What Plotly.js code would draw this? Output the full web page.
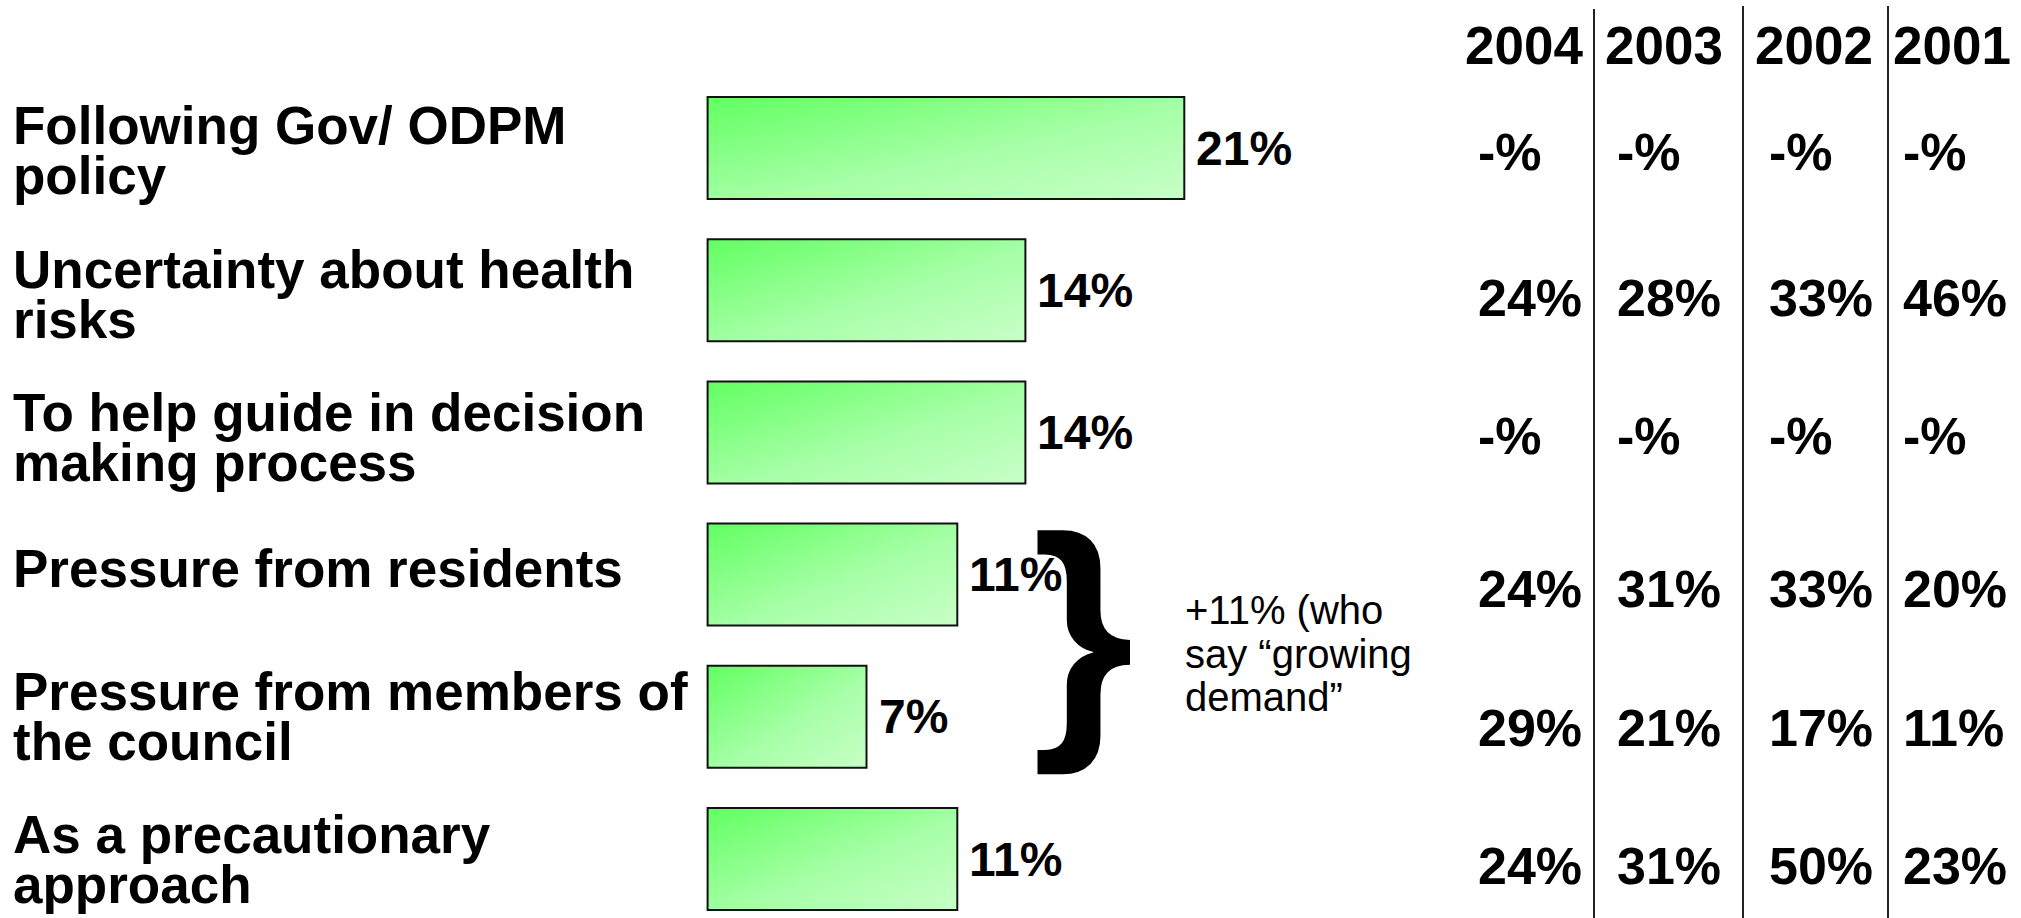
<!DOCTYPE html>
<html>
<head>
<meta charset="utf-8">
<script src="https://cdn.plot.ly/plotly-3.0.1.min.js"></script>
<style>
  html, body { margin: 0; padding: 0; background: #ffffff; }
  #chart { width: 2021px; height: 918px; }
</style>
</head>
<body>
<div id="chart"></div>
<script>
// ---- data ----
const categories = [
  "Following Gov/ ODPM policy",
  "Uncertainty about health risks",
  "To help guide in decision making process",
  "Pressure from residents",
  "Pressure from members of the council",
  "As a precautionary approach"
];
const categoryLines = [
  ["Following Gov/ ODPM", "policy"],
  ["Uncertainty about health", "risks"],
  ["To help guide in decision", "making process"],
  ["Pressure from residents"],
  ["Pressure from members of", "the council"],
  ["As a precautionary", "approach"]
];
const currentShare = [21, 14, 14, 11, 7, 11];
const years = ["2004", "2003", "2002", "2001"];
const share2004 = [null, 24, null, 24, 29, 24];
const share2003 = [null, 28, null, 31, 21, 31];
const share2002 = [null, 33, null, 33, 17, 50];
const share2001 = [null, 46, null, 20, 11, 23];
const groupNoteLines = ["+11% (who", "say \u201cgrowing", "demand\u201d"];

// ---- layout helpers ----
const W = 2021, H = 918;
const FONT = "Liberation Sans, Arial, Helvetica, sans-serif";
const px2x = p => p / W;
const px2y = p => 1 - p / H;
const barZeroPx = 707.6, pxPerPct = 22.7;
const firstRowPx = 148, rowPitch = 142.2;

const tableCols = [share2004, share2003, share2002, share2001];
const tableColLeftPx = [1476, 1615, 1767, 1901];
const headerCenterPx = [1524, 1664, 1814, 1952];
const tableRowPx = [152, 298, 436, 589, 728, 866];
const dividerPx = [1594, 1743, 1888];
const labelNudge = [2, 4, 5, -6, 0, 0];
const noteLinePx = [610, 654, 697];

const annotations = [];

// category labels
categoryLines.forEach((lines, i) => {
  const n = lines.length;
  lines.forEach((line, j) => {
    const off = (j - (n - 1) / 2) * 50 + labelNudge[i];
    annotations.push({
      xref: "paper", x: px2x(11), xanchor: "left",
      yref: "y", y: categories[i], yanchor: "middle", yshift: -off,
      text: "<b>" + line + "</b>", showarrow: false,
      font: { family: FONT, size: 53, color: "#000" }
    });
  });
});

// value labels
currentShare.forEach((v, i) => {
  annotations.push({
    xref: "x", x: v, xanchor: "left", xshift: 10,
    yref: "y", y: categories[i], yanchor: "middle",
    text: "<b>" + v + "%</b>", showarrow: false,
    font: { family: FONT, size: 48, color: "#000" }
  });
});

// headers
years.forEach((yr, k) => {
  annotations.push({
    xref: "paper", x: px2x(headerCenterPx[k]), xanchor: "center",
    yref: "paper", y: px2y(45), yanchor: "middle",
    text: "<b>" + yr + "</b>", showarrow: false,
    font: { family: FONT, size: 53, color: "#000" }
  });
});

// table values
tableCols.forEach((col, k) => {
  col.forEach((v, i) => {
    annotations.push({
      xref: "paper", x: px2x(tableColLeftPx[k]), xanchor: "left",
      yref: "paper", y: px2y(tableRowPx[i]), yanchor: "middle",
      text: "<b>" + (v === null ? "-" : v) + "%</b>", showarrow: false,
      font: { family: FONT, size: 52, color: "#000" }
    });
  });
});

// brace + note
annotations.push({
  xref: "paper", x: px2x(1083), xanchor: "center",
  yref: "paper", y: px2y(630), yanchor: "middle",
  text: "<b>}</b>", showarrow: false,
  font: { family: FONT, size: 262, color: "#000" }
});
groupNoteLines.forEach((line, j) => {
  annotations.push({
    xref: "paper", x: px2x(1183), xanchor: "left",
    yref: "paper", y: px2y(noteLinePx[j]), yanchor: "middle",
    text: line, showarrow: false,
    font: { family: FONT, size: 40, color: "#000" }
  });
});

const shapes = dividerPx.map((p, k) => ({
  type: "line", xref: "paper", yref: "paper",
  x0: px2x(p), x1: px2x(p), y0: px2y([9, 6, 6][k]), y1: px2y(918),
  line: { color: "#222", width: 2 }
}));

const trace = {
  type: "bar", orientation: "h",
  x: currentShare, y: categories,
  marker: { color: "#9cf89c", line: { color: "#111", width: 2 } },
  hoverinfo: "none", cliponaxis: false
};

const layout = {
  width: W, height: H,
  margin: { l: 0, r: 0, t: 0, b: 0, pad: 0 },
  paper_bgcolor: "#ffffff", plot_bgcolor: "#ffffff",
  showlegend: false,
  bargap: 0.283,
  xaxis: {
    range: [-barZeroPx / pxPerPct, (W - barZeroPx) / pxPerPct],
    visible: false, fixedrange: true, zeroline: false, showgrid: false
  },
  yaxis: {
    type: "category",
    range: [(H - firstRowPx) / rowPitch, -firstRowPx / rowPitch],
    visible: false, fixedrange: true, showgrid: false
  },
  annotations: annotations,
  shapes: shapes
};

Plotly.newPlot("chart", [trace], layout, { staticPlot: true, displayModeBar: false }).then(gd => {
  const NS = "http://www.w3.org/2000/svg";
  const svg = gd.querySelector(".main-svg");
  let defs = svg.querySelector("defs");
  if (!defs) { defs = document.createElementNS(NS, "defs"); svg.insertBefore(defs, svg.firstChild); }
  const grad = document.createElementNS(NS, "linearGradient");
  grad.setAttribute("id", "barGrad");
  grad.setAttribute("x1", "0"); grad.setAttribute("y1", "0");
  grad.setAttribute("x2", "1"); grad.setAttribute("y2", "1");
  [["0%", "#62ff62"], ["55%", "#a6ffa6"], ["100%", "#c8ffc8"]].forEach(([o, c]) => {
    const s = document.createElementNS(NS, "stop");
    s.setAttribute("offset", o); s.setAttribute("stop-color", c);
    grad.appendChild(s);
  });
  defs.appendChild(grad);
  gd.querySelectorAll(".trace.bars .point path").forEach(p => { p.style.fill = "url(#barGrad)"; });
});
</script>
</body>
</html>
